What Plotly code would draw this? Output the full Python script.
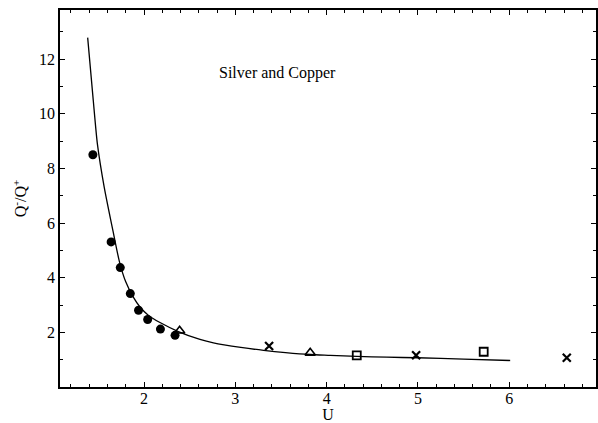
import plotly.graph_objects as go

# Fitted curve
curve_u = [1.383, 1.444, 1.489, 1.565, 1.664, 1.73, 1.80, 1.883, 1.956, 2.05, 2.175, 2.376, 2.613, 2.76, 3.06, 3.31, 3.55, 3.82, 4.04, 4.33, 4.66, 4.99, 5.5, 6.01]
curve_q = [12.79, 10.5, 8.91, 7.3, 5.65, 4.6, 3.85, 3.29, 2.93, 2.62, 2.36, 2.03, 1.74, 1.615, 1.45, 1.34, 1.26, 1.19, 1.16, 1.12, 1.09, 1.07, 1.02, 0.97]

# Data points by marker type
circ_u = [1.44, 1.64, 1.74, 1.85, 1.94, 2.04, 2.18, 2.34]
circ_q = [8.5, 5.31, 4.37, 3.42, 2.81, 2.47, 2.12, 1.89]
tri_u = [2.39, 3.82]
tri_q = [2.06, 1.25]
sq_u = [4.33, 5.72]
sq_q = [1.16, 1.29]
x_u = [3.37, 4.98, 6.63]
x_q = [1.50, 1.16, 1.07]

x_ticks = [2, 3, 4, 5, 6]
y_ticks = [2, 4, 6, 8, 10, 12]

FONT = "Liberation Serif, Times New Roman, serif"

fig = go.Figure()
fig.add_trace(go.Scatter(x=curve_u, y=curve_q, mode="lines",
                         line=dict(color="black", width=1.3, shape="spline", smoothing=0.6),
                         showlegend=False))
fig.add_trace(go.Scatter(x=circ_u, y=circ_q, mode="markers",
                         marker=dict(symbol="circle", size=9, color="black"),
                         showlegend=False))
fig.add_trace(go.Scatter(x=tri_u, y=tri_q, mode="markers",
                         marker=dict(symbol="triangle-up-open", size=9, color="black",
                                     line=dict(width=1.6)),
                         showlegend=False))
fig.add_trace(go.Scatter(x=sq_u, y=sq_q, mode="markers",
                         marker=dict(symbol="square-open", size=8, color="black",
                                     line=dict(width=1.8)),
                         showlegend=False))
fig.add_trace(go.Scatter(x=x_u, y=x_q, mode="markers",
                         marker=dict(symbol="x-thin-open", size=8, color="black",
                                     line=dict(width=2.2, color="black")),
                         showlegend=False))

fig.add_annotation(x=3.46, y=11.49, text="Silver and Copper", showarrow=False,
                   xanchor="center", yanchor="middle",
                   font=dict(family=FONT, size=16, color="black"))

axis_common = dict(showgrid=False, zeroline=False, showline=True, linecolor="black",
                   linewidth=1.5, mirror="allticks", ticks="inside", ticklen=5,
                   tickwidth=1, tickcolor="black", automargin=False,
                   tickfont=dict(family=FONT, size=16, color="black"))

fig.update_layout(
    template="none",
    width=598, height=423,
    margin=dict(l=60, r=2, t=10, b=36),
    paper_bgcolor="white", plot_bgcolor="white",
    xaxis=dict(range=[1.08, 6.95], tickvals=x_ticks, ticklabelstandoff=-4,
               minor=dict(dtick=0.2, tick0=0, ticks="inside", ticklen=3, tickcolor="black"),
               title=dict(text="U", font=dict(family=FONT, size=16, color="black"), standoff=0),
               **axis_common),
    yaxis=dict(range=[0, 13.8], tickvals=y_ticks,
               minor=dict(dtick=1, tick0=0, ticks="inside", ticklen=3, tickcolor="black"),
               title=dict(text="Q<sup>-</sup>/Q<sup>+</sup>", font=dict(family=FONT, size=16, color="black"),
                          standoff=8),
               **axis_common),
)

fig.write_html("out.html", config={"displayModeBar": False},
               post_script="document.body.style.margin='0';document.body.style.overflow='hidden';")
